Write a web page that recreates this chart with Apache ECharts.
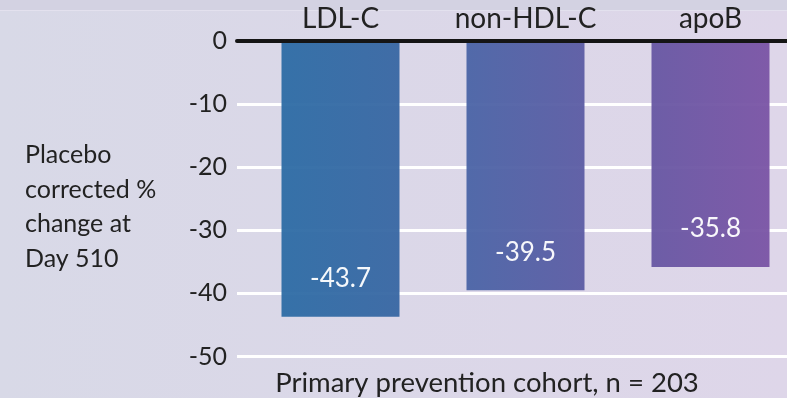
<!DOCTYPE html>
<html>
<head>
<meta charset="utf-8">
<script src="https://cdn.jsdelivr.net/npm/echarts@6/dist/echarts.min.js"></script>
<style>
  html, body { margin: 0; padding: 0; }
  #chart { width: 787px; height: 398px; }
</style>
</head>
<body>
<div id="chart"></div>
<script>
// Lipid endpoints and their placebo-corrected % change at Day 510
const categories = ['LDL-C', 'non-HDL-C', 'apoB'];
const values = [-43.7, -39.5, -35.8];
const yTicks = [0, -10, -20, -30, -40, -50];
const barColors = [
  ['#2d6ca5', '#3867a3'],
  ['#4a64a6', '#5c5ca4'],
  ['#6757a3', '#7a54a5']
];
const yTitleLines = ['Placebo', 'corrected %', 'change at', 'Day 510'];
const footnote = 'Primary prevention cohort, n = 203';

const FONT = 'Lato, "Open Sans", sans-serif';
const TEXT = '#222222';
const yMin = Math.min(...yTicks);
const yMax = Math.max(...yTicks);
const yStep = Math.abs(yTicks[1] - yTicks[0]);

const chart = echarts.init(document.getElementById('chart'), null, { renderer: 'canvas' });

const gridTop = 41;
const gridBottom = 41.5;

chart.setOption({
  animation: false,
  backgroundColor: {
    type: 'linear', x: 0, y: 0, x2: 1, y2: 0,
    colorStops: [
      { offset: 0, color: '#d8d9e7' },
      { offset: 1, color: '#ded6e9' }
    ]
  },
  textStyle: { fontFamily: FONT },
  grid: [
    // full-width grid carrying the white gridlines, tick labels and zero line
    { left: 237, right: 0, top: gridTop, bottom: gridBottom, outerBoundsMode: 'none' },
    // grid holding the bars and the category labels
    { left: 248, width: 555, top: gridTop, bottom: gridBottom, outerBoundsMode: 'none' }
  ],
  xAxis: [
    {
      gridIndex: 0, type: 'category', data: categories, position: 'top', z: 10,
      axisLine: { show: true, lineStyle: { color: '#151515', width: 4 } },
      axisTick: { show: false }, axisLabel: { show: false }, splitLine: { show: false }
    },
    {
      gridIndex: 1, type: 'category', data: categories, position: 'top',
      axisLine: { show: false }, axisTick: { show: false },
      axisLabel: {
        show: true, interval: 0, hideOverlap: false,
        color: TEXT, fontSize: 28, fontFamily: FONT, margin: 8
      }
    }
  ],
  yAxis: [
    {
      gridIndex: 0, type: 'value', min: yMin, max: yMax, interval: yStep,
      axisLine: { show: false }, axisTick: { show: false },
      axisLabel: { color: TEXT, fontSize: 25, fontFamily: FONT, margin: 10 },
      splitLine: { show: true, lineStyle: { color: '#ffffff', width: 3 } }
    },
    {
      gridIndex: 1, type: 'value', min: yMin, max: yMax, interval: yStep,
      show: false, splitLine: { show: false }
    }
  ],
  series: [{
    type: 'bar',
    xAxisIndex: 1, yAxisIndex: 1,
    barWidth: 118,
    data: values.map((v, i) => ({
      value: v,
      itemStyle: {
        opacity: 0.95,
        color: {
          type: 'linear', x: 0, y: 0, x2: 1, y2: 0,
          colorStops: [
            { offset: 0, color: barColors[i][0] },
            { offset: 1, color: barColors[i][1] }
          ]
        }
      }
    })),
    label: {
      show: true, position: 'insideBottom', distance: 25,
      color: '#ffffff', fontSize: 26, fontFamily: FONT,
      formatter: p => p.value.toFixed(1)
    }
  }],
  graphic: [
    // header strip along the top edge
    { type: 'rect', left: 0, top: 0, shape: { width: 787, height: 10 }, style: { fill: '#d3d2e2' }, silent: true },
    { type: 'rect', left: 0, top: 10, shape: { width: 787, height: 1 }, style: { fill: '#e3e1ee' }, silent: true },
    {
      type: 'text', left: 25, top: 138,
      style: {
        text: yTitleLines.join('\n'), fill: TEXT, font: '25px ' + FONT,
        lineHeight: 34.5
      }
    },
    {
      type: 'text', x: 487, y: 383,
      style: {
        text: footnote, fill: TEXT, font: '27.5px ' + FONT,
        align: 'center', verticalAlign: 'middle'
      }
    }
  ]
});
</script>
</body>
</html>
